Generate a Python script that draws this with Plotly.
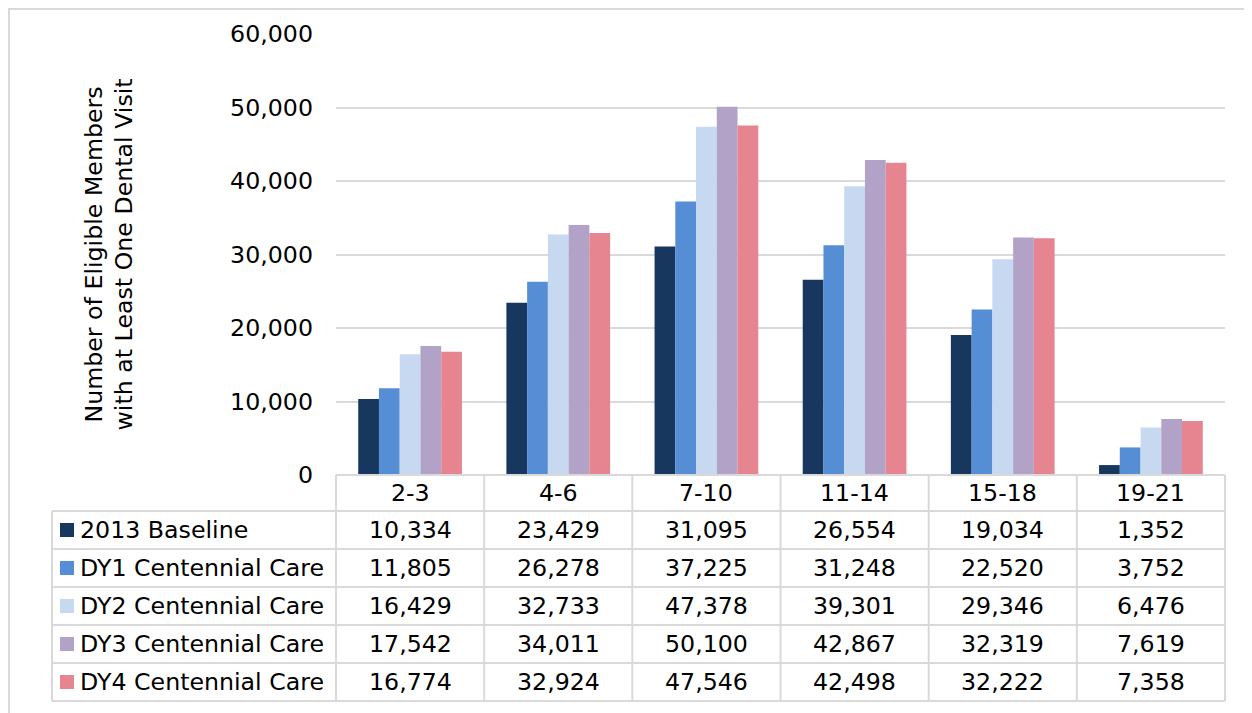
import plotly.graph_objects as go

age_groups = ['2-3', '4-6', '7-10', '11-14', '15-18', '19-21']
series_names = ['2013 Baseline', 'DY1 Centennial Care', 'DY2 Centennial Care',
                'DY3 Centennial Care', 'DY4 Centennial Care']
baseline_2013 = [10334, 23429, 31095, 26554, 19034, 1352]
dy1 = [11805, 26278, 37225, 31248, 22520, 3752]
dy2 = [16429, 32733, 47378, 39301, 29346, 6476]
dy3 = [17542, 34011, 50100, 42867, 32319, 7619]
dy4 = [16774, 32924, 47546, 42498, 32222, 7358]
colors = ['#17375E', '#558ED5', '#C6D9F1', '#B3A2C7', '#E6848F']
y_title = 'Number of Eligible Members<br>with at Least One Dental Visit'

series_values = [baseline_2013, dy1, dy2, dy3, dy4]

# page body has an 8px margin, so work in screen pixels and shift
OFF = 8
FW, FH = 1252 - OFF, 713 - OFF
L, R, T, B = 336, 1225, 34, 475   # plot area, screen pixels
grid = '#D9D9D9'
FONT = 'DejaVu Sans'
FS = 23.7


def px_x(x):
    return (x - L) / (R - L)


def px_y(y):
    return (B - y) / (B - T)


fig = go.Figure()
for name, vals, col in zip(series_names, series_values, colors):
    fig.add_trace(go.Bar(x=age_groups, y=vals, name=name, marker_color=col,
                         marker_line_width=0))

shapes = []
annotations = []

# outer frame (bottom edge runs off the page like the reference)
shapes.append(dict(type='rect', xref='paper', yref='paper', x0=px_x(9), x1=px_x(1245),
                   y0=px_y(730), y1=px_y(9), line=dict(color=grid, width=2), layer='above'))

# table geometry
header_top, header_bot = 475, 511
row_h = 38
n_rows = len(series_names)
table_bot = header_bot + row_h * n_rows
left_edge = 52

# horizontal lines
shapes.append(dict(type='line', xref='paper', yref='paper', x0=0, x1=1,
                   y0=px_y(header_top), y1=px_y(header_top), line=dict(color=grid, width=2)))
for i in range(n_rows + 1):
    yy = header_bot + row_h * i
    shapes.append(dict(type='line', xref='paper', yref='paper', x0=px_x(left_edge), x1=1,
                       y0=px_y(yy), y1=px_y(yy), line=dict(color=grid, width=2)))
# vertical lines
shapes.append(dict(type='line', xref='paper', yref='paper', x0=px_x(left_edge), x1=px_x(left_edge),
                   y0=px_y(header_bot), y1=px_y(table_bot), line=dict(color=grid, width=2)))
for k in range(len(age_groups) + 1):
    xx = k / len(age_groups)
    shapes.append(dict(type='line', xref='paper', yref='paper', x0=xx, x1=xx,
                       y0=px_y(header_top), y1=px_y(table_bot), line=dict(color=grid, width=2)))

# header labels
for k, g in enumerate(age_groups):
    annotations.append(dict(xref='paper', yref='paper', x=(k + 0.5) / len(age_groups),
                            y=px_y((header_top + header_bot) / 2), text=g, showarrow=False,
                            xanchor='center', yanchor='middle',
                            font=dict(family=FONT, size=FS, color='black')))

# rows
for i, (name, vals, col) in enumerate(zip(series_names, series_values, colors)):
    yc = header_bot + row_h * i + row_h / 2
    shapes.append(dict(type='rect', xref='paper', yref='paper', x0=px_x(60), x1=px_x(74),
                       y0=px_y(yc + 7), y1=px_y(yc - 7), fillcolor=col, line=dict(width=0)))
    annotations.append(dict(xref='paper', yref='paper', x=px_x(78), y=px_y(yc), text=name,
                            showarrow=False, xanchor='left', yanchor='middle',
                            font=dict(family=FONT, size=FS, color='black')))
    for k, v in enumerate(vals):
        annotations.append(dict(xref='paper', yref='paper', x=(k + 0.5) / len(age_groups),
                                y=px_y(yc), text=f'{v:,}', showarrow=False,
                                xanchor='center', yanchor='middle',
                                font=dict(family=FONT, size=FS, color='black')))

# y-axis title
annotations.append(dict(xref='paper', yref='paper', x=px_x(109), y=0.5, text=y_title,
                        textangle=-90, showarrow=False, xanchor='center', yanchor='middle',
                        font=dict(family=FONT, size=FS, color='black')))

fig.update_layout(
    width=FW, height=FH,
    margin=dict(l=L - OFF, r=1252 - R, t=T - OFF, b=713 - B, pad=0),
    paper_bgcolor='white', plot_bgcolor='white',
    barmode='group', bargap=0.3, bargroupgap=0,
    showlegend=False,
    font=dict(family=FONT, size=FS, color='black'),
    shapes=shapes, annotations=annotations,
)
fig.update_xaxes(showticklabels=False, showgrid=False, zeroline=False, showline=False)
fig.update_yaxes(range=[0, 60000], dtick=10000, tickformat=',', showgrid=True,
                 gridcolor=grid, gridwidth=2, zeroline=False, showline=False,
                 ticklabelstandoff=22, tickfont=dict(family=FONT, size=FS, color='black'))

fig.write_html('out.html')
